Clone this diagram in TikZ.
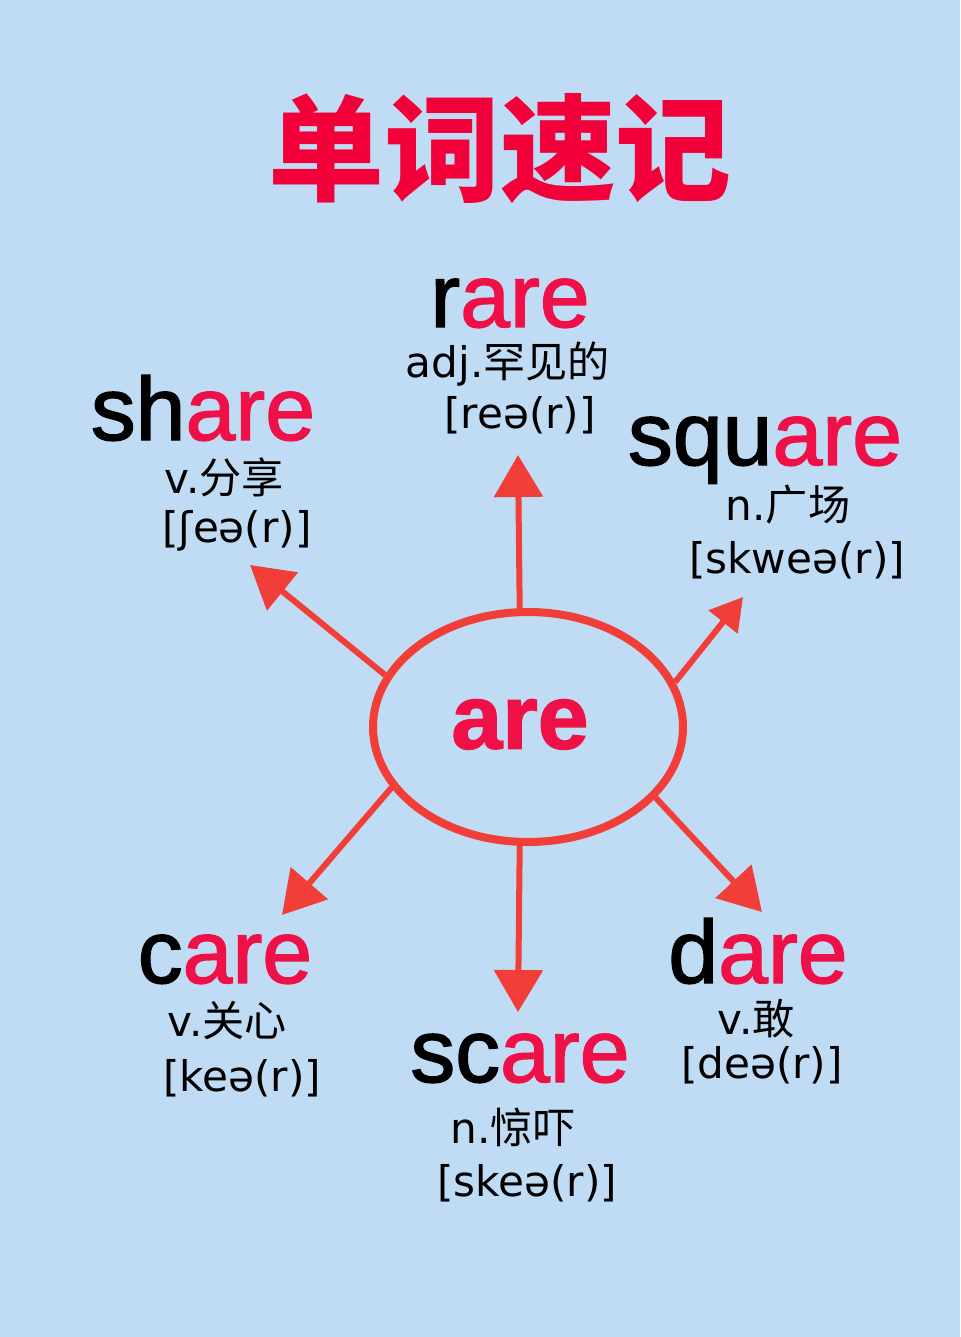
\documentclass[tikz,border=0pt]{standalone}
\usepackage{fontspec}
\usepackage{xcolor}
\usepackage{tikz}
\usetikzlibrary{shapes.geometric,arrows.meta}
\setmainfont{DejaVu Sans}
\newfontfamily\zh{Noto Sans CJK SC}
\newfontfamily\arl{Liberation Sans}[FakeBold=1.6]
\definecolor{bgblue}{RGB}{191,220,244}
\definecolor{titlered}{RGB}{242,0,58}
\definecolor{arered}{RGB}{238,16,70}
\definecolor{arrowred}{RGB}{242,62,56}
\newcommand\wrd[2]{{\arl\fontsize{25.5}{30}\selectfont#1\textcolor{arered}{#2}}}
\tikzset{
  wordnode/.style={anchor=base,inner sep=0pt},
  glossnode/.style={inner sep=0pt,font=\fontsize{12}{14}\selectfont},
  arr/.style={draw=arrowred,line width=0.06cm,-{Triangle[width=0.48cm,length=0.42cm]}}
}

\begin{document}
\begin{tikzpicture}
    \fill[bgblue] (0,0) rectangle (9.6,-13.37);
    \useasboundingbox (0,0) rectangle (9.6,-13.37);
    % Titre
    \node[text=titlered,inner sep=0pt] (title) at (5.0,-1.49) {\zh\bfseries\fontsize{33}{36}\selectfont 单词速记};
    % Ellipse centrale
    \node[ellipse,draw=arrowred,line width=0.08cm,minimum width=3.1cm,minimum height=2.3cm,inner sep=0pt,
          text=arered,font=\arl\bfseries\fontsize{26}{30}\selectfont] (are) at (5.28,-7.27) {\raisebox{0.06cm}{are}\kern0.16cm};
    % Mots
    \node[wordnode] (rare) at (5.10,-3.27) {\wrd{r}{are}};
    \node[glossnode] (rareg) at (5.08,-3.64) {adj.{\zh 罕见的}};
    \node[glossnode] (rarep) at (5.20,-4.15) {[reə(r)]};
    \node[wordnode] (share) at (2.03,-4.40) {\wrd{sh}{are}};
    \node[glossnode] (shareg) at (2.24,-4.77) {v.{\zh 分享}};
    \node[glossnode] (sharep) at (2.37,-5.31) {[ʃeə(r)]};
    \node[wordnode] (square) at (7.65,-4.65) {\wrd{squ}{are}};
    \node[glossnode] (squareg) at (7.88,-5.05) {n.{\zh 广场}};
    \node[glossnode] (squarep) at (7.97,-5.60) {[skweə(r)]};
    \node[wordnode] (care) at (2.25,-9.83) {\wrd{c}{are}};
    \node[glossnode] (careg) at (2.27,-10.21) {v.{\zh 关心}};
    \node[glossnode] (carep) at (2.42,-10.78) {[keə(r)]};
    \node[wordnode] (scare) at (5.20,-10.82) {\wrd{sc}{are}};
    \node[glossnode] (scareg) at (5.13,-11.27) {n.{\zh 惊吓}};
    \node[glossnode] (scarep) at (5.27,-11.83) {[skeə(r)]};
    \node[wordnode] (dare) at (7.58,-9.83) {\wrd{d}{are}};
    \node[glossnode] (dareg) at (7.56,-10.19) {v.{\zh 敢}};
    \node[glossnode] (darep) at (7.62,-10.65) {[deə(r)]};
    % Pointes des fleches
    \coordinate (tipup) at (5.18,-4.55);
    \coordinate (tipul) at (2.50,-5.65);
    \coordinate (tipur) at (7.43,-5.97);
    \coordinate (tipll) at (2.82,-9.15);
    \coordinate (tipdn) at (5.18,-10.12);
    \coordinate (tiplr) at (7.62,-9.12);
    % Fleches
    \draw[arr] (are.94) -- (tipup);
    \draw[arr] (are.160) -- (tipul);
    \draw[arr,-{Triangle[width=0.36cm,length=0.32cm]}] (are.17) -- (tipur);
    \draw[arr] (are.204) -- (tipll);
    \draw[arr] (are.266) -- (tipdn);
    \draw[arr] (are.331) -- (tiplr);
\end{tikzpicture}
\end{document}
